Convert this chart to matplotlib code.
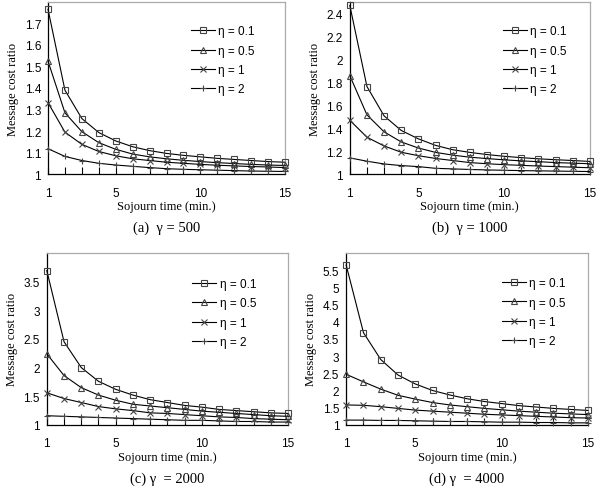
import matplotlib.pyplot as plt

# ---- data (sojourn time 1..15 min) ----
sojourn = list(range(1, 16))
eta_labels = ['η = 0.1', 'η = 0.5', 'η = 1', 'η = 2']

# (a) gamma = 500
a_eta01 = [1.766, 1.39, 1.258, 1.193, 1.154, 1.127, 1.109, 1.096, 1.087, 1.08, 1.073, 1.068, 1.063, 1.058, 1.055]
a_eta05 = [1.525, 1.285, 1.197, 1.146, 1.115, 1.093, 1.08, 1.071, 1.064, 1.058, 1.053, 1.049, 1.045, 1.042, 1.04]
a_eta1 = [1.332, 1.195, 1.138, 1.105, 1.085, 1.071, 1.063, 1.055, 1.05, 1.045, 1.041, 1.038, 1.035, 1.033, 1.03]
a_eta2 = [1.118, 1.082, 1.063, 1.05, 1.042, 1.036, 1.03, 1.025, 1.022, 1.02, 1.018, 1.016, 1.014, 1.013, 1.012]

# (b) gamma = 1000
b_eta01 = [2.47, 1.763, 1.507, 1.38, 1.307, 1.25, 1.212, 1.189, 1.17, 1.155, 1.143, 1.133, 1.125, 1.118, 1.11]
b_eta05 = [1.858, 1.516, 1.368, 1.28, 1.227, 1.189, 1.165, 1.147, 1.135, 1.124, 1.115, 1.108, 1.1, 1.095, 1.09]
b_eta1 = [1.469, 1.321, 1.245, 1.19, 1.16, 1.136, 1.118, 1.1, 1.09, 1.082, 1.076, 1.07, 1.065, 1.06, 1.055]
b_eta2 = [1.141, 1.112, 1.088, 1.074, 1.065, 1.05, 1.045, 1.04, 1.036, 1.033, 1.03, 1.028, 1.026, 1.024, 1.022]

# (c) gamma = 2000
c_eta01 = [3.69, 2.45, 2.0, 1.76, 1.62, 1.52, 1.44, 1.39, 1.34, 1.31, 1.27, 1.25, 1.23, 1.21, 1.2]
c_eta05 = [2.24, 1.86, 1.65, 1.52, 1.43, 1.36, 1.33, 1.3, 1.27, 1.24, 1.22, 1.2, 1.18, 1.16, 1.15]
c_eta1 = [1.56, 1.46, 1.39, 1.32, 1.28, 1.25, 1.21, 1.2, 1.18, 1.16, 1.14, 1.13, 1.11, 1.1, 1.09]
c_eta2 = [1.16, 1.15, 1.14, 1.13, 1.12, 1.11, 1.1, 1.09, 1.08, 1.08, 1.07, 1.06, 1.06, 1.05, 1.05]

# (d) gamma = 4000
d_eta01 = [5.64, 3.68, 2.9, 2.45, 2.19, 2.0, 1.87, 1.76, 1.68, 1.62, 1.56, 1.52, 1.48, 1.45, 1.42]
d_eta05 = [2.47, 2.25, 2.04, 1.86, 1.75, 1.65, 1.58, 1.53, 1.48, 1.44, 1.4, 1.37, 1.34, 1.32, 1.3]
d_eta1 = [1.58, 1.57, 1.53, 1.48, 1.43, 1.4, 1.37, 1.34, 1.31, 1.29, 1.27, 1.25, 1.23, 1.21, 1.2]
d_eta2 = [1.14, 1.14, 1.13, 1.13, 1.12, 1.11, 1.1, 1.1, 1.09, 1.08, 1.08, 1.07, 1.07, 1.06, 1.06]

# ---- panel setup ----
panels = [
    dict(series=[a_eta01, a_eta05, a_eta1, a_eta2], ylim=(1, 1.8),
         yticks=[1, 1.1, 1.2, 1.3, 1.4, 1.5, 1.6, 1.7], caption='(a)  γ = 500',
         pos=[0.080, 0.642, 0.395, 0.352], leg=(0.56, 0.925)),
    dict(series=[b_eta01, b_eta05, b_eta1, b_eta2], ylim=(1, 2.5),
         yticks=[1, 1.2, 1.4, 1.6, 1.8, 2, 2.2, 2.4], caption='(b)  γ = 1000',
         pos=[0.583, 0.642, 0.400, 0.352], leg=(0.595, 0.925)),
    dict(series=[c_eta01, c_eta05, c_eta1, c_eta2], ylim=(1, 4.0),
         yticks=[1, 1.5, 2, 2.5, 3, 3.5], caption='(c) γ  = 2000',
         pos=[0.078, 0.129, 0.402, 0.352], leg=(0.56, 0.915)),
    dict(series=[d_eta01, d_eta05, d_eta1, d_eta2], ylim=(1, 6.0),
         yticks=[1, 1.5, 2, 2.5, 3, 3.5, 4, 4.5, 5, 5.5], caption='(d) γ  = 4000',
         pos=[0.577, 0.129, 0.403, 0.352], leg=(0.60, 0.92)),
]

markers = ['s', '^', 'x', '+']
serif = 'Liberation Serif'
sans = 'Liberation Sans'

fig = plt.figure(figsize=(6, 4.89), dpi=100)

for p in panels:
    ax = fig.add_axes(p['pos'])
    for vals, mk, lab in zip(p['series'], markers, eta_labels):
        ax.plot(sojourn, vals, color='black', lw=0.8, marker=mk,
                markersize=4.6 if mk in 's^' else 5, markerfacecolor='none',
                markeredgecolor='#444444', markeredgewidth=0.8,
                label=lab, clip_on=False, zorder=3)

    ax.set_xlim(1, 15)
    ax.set_ylim(*p['ylim'])
    ax.set_xticks(sojourn)
    ax.set_xticklabels([str(t) if t in (1, 5, 10, 15) else '' for t in sojourn])
    ax.set_yticks(p['yticks'])
    ax.set_yticklabels([f'{v:g}' for v in p['yticks']])
    ax.tick_params(axis='x', direction='in', length=5, width=0.8, pad=9,
                   labelsize=8.5)
    ax.tick_params(axis='y', direction='in', length=0, pad=5, labelsize=8.5)
    for lab in ax.get_xticklabels() + ax.get_yticklabels():
        lab.set_fontfamily(sans)

    ax.spines['left'].set_color('black')
    ax.spines['bottom'].set_color('black')
    ax.spines['top'].set_color('#aaaaaa')
    ax.spines['right'].set_color('#aaaaaa')
    for s in ax.spines.values():
        s.set_linewidth(0.9)

    ax.set_xlabel('Sojourn time (min.)', fontfamily=serif, fontsize=9, labelpad=1)
    ax.set_ylabel('Message cost ratio', fontfamily=serif, fontsize=9, labelpad=4)
    ax.text(0.5, -0.31, p['caption'], transform=ax.transAxes, ha='center',
            va='center', fontfamily=serif, fontsize=10.5)

    ax.legend(loc='upper left', bbox_to_anchor=p['leg'], frameon=False,
              handlelength=2.0, handletextpad=0.3, labelspacing=0.62,
              prop={'family': sans, 'size': 8.5})

fig.savefig('out.png', dpi=100)
